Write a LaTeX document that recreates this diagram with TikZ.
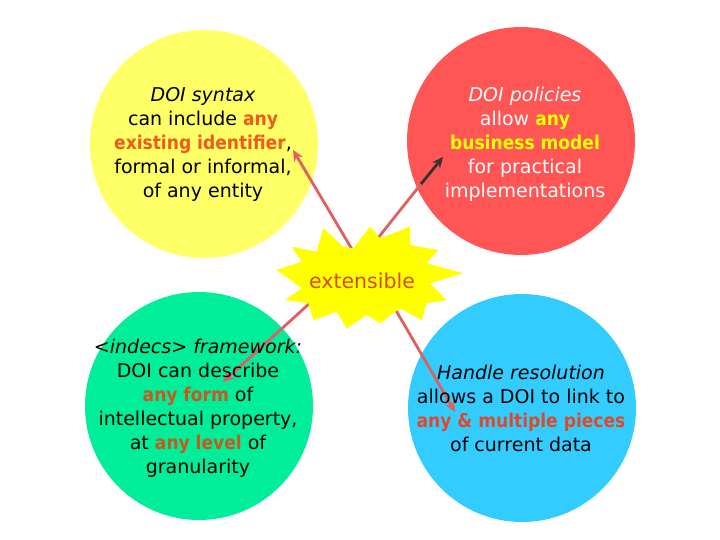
\documentclass[tikz,border=0pt]{standalone}
\usepackage{fontspec}
\usetikzlibrary{arrows.meta}
\setmainfont{DejaVu Sans}
\newfontfamily\cb{DejaVu Sans Condensed Bold}
\definecolor{cyel}{HTML}{FFFF66}
\definecolor{cred}{HTML}{FF5555}
\definecolor{cgrn}{HTML}{00EE99}
\definecolor{cblu}{HTML}{33CCFF}
\definecolor{cstar}{HTML}{FFFF00}
\definecolor{acc1}{HTML}{F05A1E}
\definecolor{acc2}{HTML}{C8581E}
\definecolor{acc3}{HTML}{E0482A}
\definecolor{accx}{HTML}{D84A10}
\definecolor{arr}{HTML}{E06060}
\definecolor{darr}{HTML}{333333}
\begin{document}
\begin{tikzpicture}[x=1pt,y=-1pt,
  blob/.style={circle,draw=none,inner sep=0pt,minimum size=228pt},
  txt/.style={align=center,font=\fontsize{19}{24}\selectfont,inner sep=0pt},
  link/.style={draw=arr,line width=2.8pt,-{Stealth[length=11pt,width=10pt]}}]
\useasboundingbox (0,0) rectangle (720,540);
\fill[white] (0,0) rectangle (720,540);
% circles
\node[blob,fill=cyel] (syn) at (204,144) {};
\node[blob,fill=cred] (pol) at (521,141) {};
\node[blob,fill=cgrn] (ind) at (199,406) {};
\node[blob,fill=cblu] (han) at (522,408) {};
% connectors
\coordinate (s1) at (356,256);
\coordinate (e1) at (293,150);
\coordinate (s2) at (374,243);
\coordinate (m2) at (421,184);
\coordinate (e2) at (443,157);
\coordinate (s3) at (310,303);
\coordinate (e3) at (223,382);
\coordinate (s4) at (394,307);
\coordinate (e4) at (455,412);
\draw[link] (s1) -- (e1);
\draw[draw=arr,line width=2.8pt] (s2) -- (m2);
\draw[link,draw=darr] (m2) -- (e2);
\draw[link] (s3) -- (e3);
\draw[link] (s4) -- (e4);
% starburst
\fill[cstar] (370,226.7) -- (380,238.3) -- (410,226.7) -- (410,245) -- (438.3,250)
  -- (426.7,263.3) -- (463.3,273.3) -- (430,283.3) -- (446.7,300) -- (426.7,303.3)
  -- (421.7,320) -- (400,308.3) -- (380,323.3) -- (366.7,315) -- (346.7,328.3)
  -- (336.7,311.7) -- (313.3,320) -- (308.3,303.3) -- (285,300) -- (301.7,288.3)
  -- (276.7,270) -- (301.7,261.7) -- (291.7,246.7) -- (316.7,251.7) -- (323.3,228.3)
  -- (343.3,246.7) -- (353.3,248.3) -- cycle;
\node[font=\fontsize{20.5}{24}\selectfont,text=accx,inner sep=0pt] (ext) at (362,281) {extensible};
% texts
\node[txt] (syntxt) at (203,144) {\itshape DOI syntax\\
  can include {\cb\color{acc1}any}\\
  {\cb\color{acc1}existing identifier},\\
  formal or informal,\\
  of any entity};
\node[txt,text=white] (poltxt) at (525,144) {\itshape DOI policies\\
  allow {\cb\color{cstar}any}\\
  {\cb\color{cstar}business model}\\
  for practical\\
  implementations};
\node[txt] (indtxt) at (198,408) {\itshape <indecs> framework:\\
  DOI can describe\\
  {\cb\color{acc2}any form} of\\
  intellectual property,\\
  at {\cb\color{acc2}any level} of\\
  granularity};
\node[txt] (hantxt) at (521,408) {\itshape Handle resolution\\
  allows a DOI to link to\\
  {\cb\color{acc3}any \& multiple pieces}\\
  of current data};
\end{tikzpicture}
\end{document}
